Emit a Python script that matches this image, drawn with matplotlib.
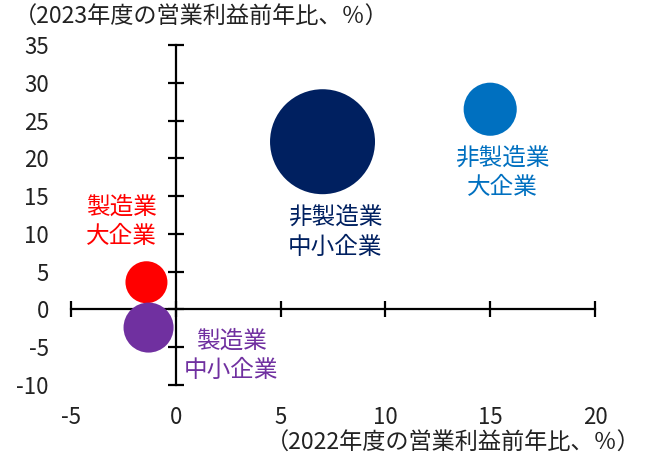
import matplotlib
matplotlib.use("Agg")
import matplotlib.pyplot as plt

plt.rcParams['font.family'] = ['Noto Sans CJK JP', 'DejaVu Sans']

# Operating profit growth by firm group (% y/y)
groups = ['製造業\n大企業', '製造業\n中小企業', '非製造業\n中小企業', '非製造業\n大企業']
growth_2022 = [-1.4, -1.3, 7.0, 15.0]
growth_2023 = [3.6, -2.4, 22.2, 26.5]
bubble_weight = [1.0, 1.42, 6.25, 1.6]
colors = ['#FF0000', '#7030A0', '#002060', '#0070C0']

x_ticks = [-5, 0, 5, 10, 15, 20]
y_ticks = [-10, -5, 0, 5, 10, 15, 20, 25, 30, 35]

# label placement (data coordinates)
label_pos = [(-2.6, 11.6), (2.65, -6.2), (7.6, 10.2), (15.6, 18.1)]

W, H = 645, 462
fig = plt.figure(figsize=(W / 100, H / 100), dpi=100)
rect = [71 / W, 1 - 385 / H, (595 - 71) / W, (385 - 45) / H]

ax = fig.add_axes(rect)
ax.set_xlim(-5, 20)
ax.set_ylim(-10, 35)

for s in ['top', 'right']:
    ax.spines[s].set_visible(False)
ax.spines['left'].set_position(('data', 0))
ax.spines['bottom'].set_position(('data', 0))
for s in ['left', 'bottom']:
    ax.spines[s].set_linewidth(1.6)
    ax.spines[s].set_color('black')

ax.set_xticks(x_ticks)
ax.set_yticks(y_ticks)
ax.tick_params(axis='both', direction='inout', length=11, width=1.6,
               labelleft=False, labelbottom=False)

scale = 914
ax.scatter(growth_2022, growth_2023, s=[w * scale for w in bubble_weight],
           c=colors, edgecolors='none', zorder=3, clip_on=False)

for name, (lx, ly), c in zip(groups, label_pos, colors):
    ax.text(lx, ly, name, color=c, fontsize=17, ha='center', va='center',
            linespacing=1.35, multialignment='center')

# tick labels along the outer edges of the plot area
lab = fig.add_axes(rect, sharex=ax, sharey=ax)
lab.patch.set_visible(False)
for s in lab.spines.values():
    s.set_visible(False)
lab.tick_params(axis='both', length=0, labelsize=16, colors='#222222')
lab.tick_params(axis='y', pad=16)
lab.tick_params(axis='x', pad=15)
lab.set_xticks(x_ticks)
lab.set_yticks(y_ticks)
lab.set_xticklabels([str(v) for v in x_ticks])
lab.set_yticklabels([str(v) for v in y_ticks])

fig.text(14 / W, 1 - 17 / H, '（2023年度の営業利益前年比、％）', fontsize=16.7,
         ha='left', va='center', color='#222222')
fig.text(641 / W, 1 - 443 / H, '（2022年度の営業利益前年比、％）', fontsize=16.7,
         ha='right', va='center', color='#222222')

fig.savefig('out.png', dpi=100)
